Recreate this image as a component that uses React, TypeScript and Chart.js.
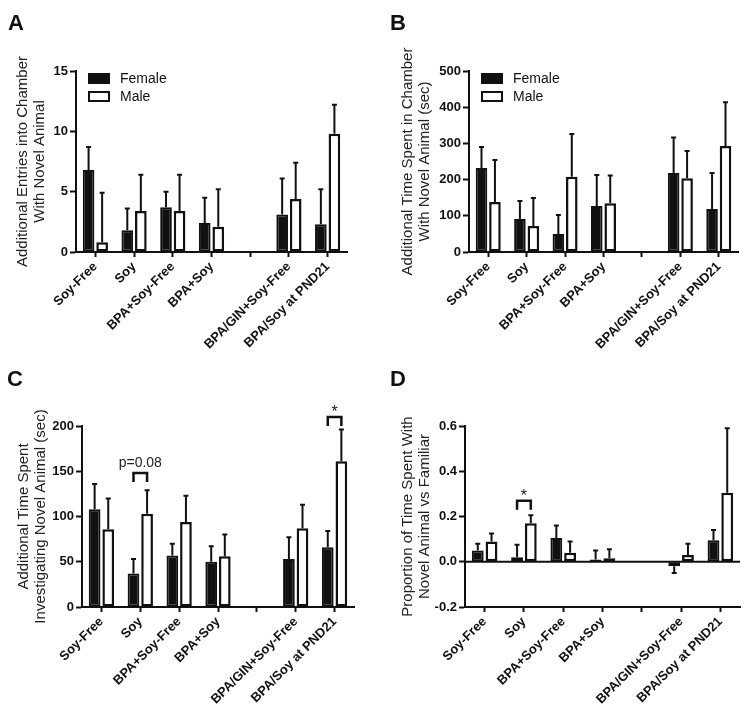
import React, { useEffect, useRef } from 'react';
import { Chart, registerables } from 'chart.js';

Chart.register(...registerables);

const FONT = '"Liberation Sans", Arial, Helvetica, sans-serif';
const INK = '#111111';

// ---------- data ----------
const categories = ['Soy-Free', 'Soy', 'BPA+Soy-Free', 'BPA+Soy', '', 'BPA/GIN+Soy-Free', 'BPA/Soy at PND21'];
const seriesNames = ['Female', 'Male'];

// Panel A: Additional entries into chamber with novel animal
const entriesFemale = [6.8, 1.8, 3.7, 2.4, null, 3.1, 2.3];
const entriesFemaleSem = [1.9, 1.8, 1.3, 2.1, null, 3.0, 2.9];
const entriesMale = [0.8, 3.4, 3.4, 2.1, null, 4.4, 9.8];
const entriesMaleSem = [4.1, 3.0, 3.0, 3.1, null, 3.0, 2.4];

// Panel B: Additional time spent in chamber with novel animal (sec)
const chamberFemale = [232, 91, 50, 127, null, 218, 119];
const chamberFemaleSem = [58, 50, 52, 86, null, 98, 99];
const chamberMale = [138, 72, 208, 135, null, 204, 293];
const chamberMaleSem = [116, 77, 118, 76, null, 75, 121];

// Panel C: Additional time spent investigating novel animal (sec)
const investFemale = [108, 37, 57, 50, null, 53, 66];
const investFemaleSem = [28, 16, 13, 17, null, 24, 18];
const investMale = [86, 103, 94, 56, null, 87, 161];
const investMaleSem = [34, 26, 29, 24, null, 26, 35];

// Panel D: Proportion of time spent with novel animal vs familiar
const propFemale = [0.05, 0.02, 0.105, 0.01, null, -0.02, 0.095];
const propFemaleSem = [0.03, 0.055, 0.055, 0.04, null, 0.03, 0.045];
const propMale = [0.09, 0.17, 0.04, 0.015, null, 0.03, 0.305];
const propMaleSem = [0.035, 0.035, 0.05, 0.04, null, 0.05, 0.285];

// tick settings
const ticksA = { min: 0, max: 15, step: 5 };
const ticksB = { min: 0, max: 500, step: 100 };
const ticksC = { min: 0, max: 200, step: 50 };
const ticksD = { min: -0.2, max: 0.6, step: 0.2 };

type Note = { cat: number; at: number; text: string };
const notesC: Note[] = [
  { cat: 1, at: 148, text: 'p=0.08' },
  { cat: 6, at: 210, text: '*' },
];
const notesD: Note[] = [{ cat: 1, at: 0.27, text: '*' }];

type PanelSpec = {
  letter: string;
  left: number;
  top: number;
  width: number;
  height: number;
  female: (number | null)[];
  femaleSem: (number | null)[];
  male: (number | null)[];
  maleSem: (number | null)[];
  ticks: { min: number; max: number; step: number };
  decimals: number;
  title: string[];
  axisWidth: number;
  padTop: number;
  padRight: number;
  xHeight: number;
  titlePad: number;
  letterPos: [number, number];
  legend: boolean;
  zeroLine: boolean;
  notes: Note[];
};

const panels: PanelSpec[] = [
  {
    letter: 'A', left: 0, top: 0, width: 375, height: 362,
    female: entriesFemale, femaleSem: entriesFemaleSem, male: entriesMale, maleSem: entriesMaleSem,
    ticks: ticksA, decimals: 0,
    title: ['Additional Entries into Chamber', 'With Novel Animal'],
    axisWidth: 76, padTop: 71, padRight: 28, xHeight: 110, titlePad: 14,
    letterPos: [8, 30], legend: true, zeroLine: false, notes: [],
  },
  {
    letter: 'B', left: 375, top: 0, width: 376, height: 362,
    female: chamberFemale, femaleSem: chamberFemaleSem, male: chamberMale, maleSem: chamberMaleSem,
    ticks: ticksB, decimals: 0,
    title: ['Additional Time Spent in Chamber', 'With Novel Animal (sec)'],
    axisWidth: 94, padTop: 71, padRight: 13, xHeight: 110, titlePad: 24.5,
    letterPos: [15, 30], legend: true, zeroLine: false, notes: [],
  },
  {
    letter: 'C', left: 0, top: 362, width: 375, height: 363,
    female: investFemale, femaleSem: investFemaleSem, male: investMale, maleSem: investMaleSem,
    ticks: ticksC, decimals: 0,
    title: ['Additional Time Spent', 'Investigating Novel Animal (sec)'],
    axisWidth: 82, padTop: 64, padRight: 21, xHeight: 118, titlePad: 15.5,
    letterPos: [7, 24], legend: false, zeroLine: false, notes: notesC,
  },
  {
    letter: 'D', left: 375, top: 362, width: 376, height: 363,
    female: propFemale, femaleSem: propFemaleSem, male: propMale, maleSem: propMaleSem,
    ticks: ticksD, decimals: 1,
    title: ['Proportion of Time Spent With', 'Novel Animal vs Familiar'],
    axisWidth: 90, padTop: 64, padRight: 11, xHeight: 118, titlePad: 24.5,
    letterPos: [15, 24], legend: false, zeroLine: true, notes: notesD,
  },
];

function makePlugin(p: PanelSpec) {
  return {
    id: 'deco' + p.letter,
    beforeDatasetsDraw(chart: any) {
      if (!p.zeroLine) return;
      const { ctx, chartArea } = chart;
      const y0 = chart.scales.y.getPixelForValue(0);
      ctx.save();
      ctx.strokeStyle = INK;
      ctx.lineWidth = 2;
      ctx.beginPath();
      ctx.moveTo(chartArea.left, y0);
      ctx.lineTo(chartArea.right, y0);
      ctx.stroke();
      ctx.restore();
    },
    afterDatasetsDraw(chart: any) {
      const { ctx } = chart;
      const ys = chart.scales.y;
      ctx.save();
      ctx.strokeStyle = INK;
      ctx.lineWidth = 2;
      [p.femaleSem, p.maleSem].forEach((sem, di) => {
        const meta = chart.getDatasetMeta(di);
        const vals = chart.data.datasets[di].data;
        meta.data.forEach((bar: any, i: number) => {
          const v = vals[i];
          const e = sem[i];
          if (v == null || e == null) return;
          const dir = v < 0 ? -1 : 1;
          const y0 = ys.getPixelForValue(v);
          const y1 = ys.getPixelForValue(v + dir * e);
          ctx.beginPath();
          ctx.moveTo(bar.x, y0);
          ctx.lineTo(bar.x, y1);
          ctx.moveTo(bar.x - 2.5, y1);
          ctx.lineTo(bar.x + 2.5, y1);
          ctx.stroke();
        });
      });
      ctx.restore();
    },
    afterDraw(chart: any) {
      const { ctx, chartArea } = chart;
      ctx.save();
      // panel letter
      ctx.fillStyle = INK;
      ctx.font = `bold 22px ${FONT}`;
      ctx.textAlign = 'left';
      ctx.textBaseline = 'alphabetic';
      ctx.fillText(p.letter, p.letterPos[0], p.letterPos[1]);

      // legend
      if (p.legend) {
        const bx = chartArea.left + 12;
        let by = chartArea.top + 2;
        chart.data.datasets.forEach((ds: any) => {
          ctx.fillStyle = ds.backgroundColor;
          ctx.fillRect(bx, by, 22, 11);
          ctx.strokeStyle = INK;
          ctx.lineWidth = 2;
          ctx.strokeRect(bx + 1, by + 1, 20, 9);
          ctx.fillStyle = INK;
          ctx.font = `14px ${FONT}`;
          ctx.textBaseline = 'middle';
          ctx.fillText(ds.label, bx + 32, by + 6);
          by += 18;
        });
      }

      // significance brackets
      const ys = chart.scales.y;
      p.notes.forEach((n) => {
        const f = chart.getDatasetMeta(0).data[n.cat];
        const m = chart.getDatasetMeta(1).data[n.cat];
        const yb = ys.getPixelForValue(n.at);
        ctx.strokeStyle = INK;
        ctx.lineWidth = 2.5;
        ctx.beginPath();
        ctx.moveTo(f.x, yb + 9);
        ctx.lineTo(f.x, yb);
        ctx.lineTo(m.x, yb);
        ctx.lineTo(m.x, yb + 9);
        ctx.stroke();
        ctx.fillStyle = '#222';
        ctx.textAlign = 'center';
        if (n.text === '*') {
          ctx.font = `16px ${FONT}`;
          ctx.textBaseline = 'alphabetic';
          ctx.fillText(n.text, (f.x + m.x) / 2, yb - 0);
        } else {
          ctx.font = `14px ${FONT}`;
          ctx.textBaseline = 'middle';
          ctx.fillText(n.text, (f.x + m.x) / 2, yb - 10);
        }
      });
      ctx.restore();
    },
  };
}

function Panel({ spec }: { spec: PanelSpec }) {
  const ref = useRef<HTMLCanvasElement | null>(null);
  useEffect(() => {
    if (!ref.current) return;
    const p = spec;
    const chart = new Chart(ref.current, {
      type: 'bar',
      data: {
        labels: categories,
        datasets: [
          {
            label: seriesNames[0],
            data: p.female as any,
            backgroundColor: INK,
            borderColor: INK,
            borderWidth: 2,
            borderSkipped: false,
            categoryPercentage: 0.7,
            barPercentage: 0.86,
          },
          {
            label: seriesNames[1],
            data: p.male as any,
            backgroundColor: '#ffffff',
            borderColor: INK,
            borderWidth: 2.5,
            borderSkipped: false,
            categoryPercentage: 0.7,
            barPercentage: 0.86,
          },
        ],
      },
      options: {
        animation: false,
        responsive: false,
        devicePixelRatio: 1,
        layout: { padding: { top: p.padTop, right: p.padRight, left: 0, bottom: 0 } },
        plugins: { legend: { display: false }, tooltip: { enabled: false }, title: { display: false } },
        scales: {
          x: {
            type: 'category',
            offset: true,
            grid: {
              display: true,
              drawOnChartArea: false,
              drawTicks: true,
              tickLength: 5,
              tickWidth: 2,
              tickColor: INK,
              offset: false,
            },
            border: { display: true, color: INK, width: 2 },
            ticks: {
              color: INK,
              font: { family: FONT, size: 13, weight: 'bold' },
              minRotation: 45,
              maxRotation: 45,
              autoSkip: false,
              padding: 2,
            },
            afterFit: (s: any) => {
              s.height = p.xHeight;
            },
          },
          y: {
            min: p.ticks.min,
            max: p.ticks.max,
            grid: {
              display: true,
              drawOnChartArea: false,
              drawTicks: true,
              tickLength: 6,
              tickWidth: 2,
              tickColor: INK,
            },
            border: { display: true, color: INK, width: 2 },
            ticks: {
              stepSize: p.ticks.step,
              color: INK,
              padding: 2,
              font: { family: FONT, size: 13, weight: 'bold' },
              callback: (v: any) => Number(v).toFixed(p.decimals),
            },
            title: {
              display: true,
              text: p.title,
              color: '#222',
              font: { family: FONT, size: 15, lineHeight: 1.13 },
              padding: { top: p.titlePad, bottom: 0 },
            },
            afterFit: (s: any) => {
              s.width = p.axisWidth;
            },
          },
        },
      } as any,
      plugins: [makePlugin(p)],
    });
    return () => chart.destroy();
  }, [spec]);
  return (
    <canvas
      ref={ref}
      width={spec.width}
      height={spec.height}
      style={{ position: 'absolute', left: spec.left, top: spec.top, width: spec.width, height: spec.height }}
    />
  );
}

export default function App() {
  return (
    <div style={{ position: 'absolute', left: 0, top: 0, width: 751, height: 725, background: '#fff' }}>
      {panels.map((s) => (
        <Panel key={s.letter} spec={s} />
      ))}
    </div>
  );
}
